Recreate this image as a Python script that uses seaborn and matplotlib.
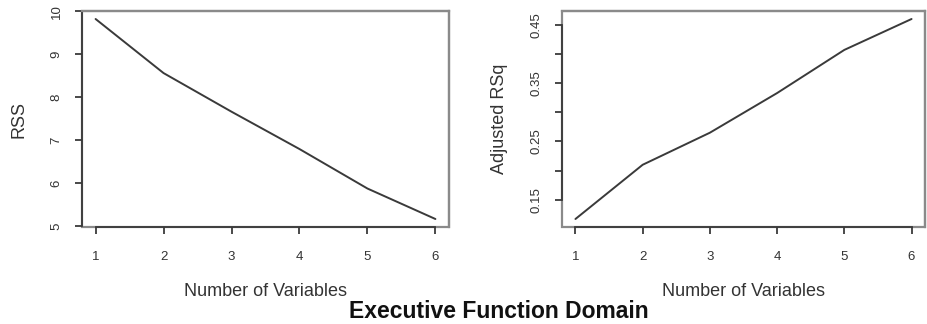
import matplotlib
matplotlib.use("Agg")
import matplotlib.pyplot as plt
import matplotlib.patches as mpatches
from matplotlib.ticker import FixedLocator, FixedFormatter
import seaborn as sns
import pandas as pd

n_vars = [1, 2, 3, 4, 5, 6]
rss = [9.82, 8.56, 7.66, 6.79, 5.87, 5.16]
adj_rsq = [0.117, 0.210, 0.265, 0.333, 0.407, 0.460]

rss_ticks = [5, 6, 7, 8, 9, 10]
rss_labels = ["5", "6", "7", "8", "9", "10"]
adj_ticks = [0.15, 0.20, 0.25, 0.30, 0.35, 0.40, 0.45]
adj_labels = ["0.15", "", "0.25", "", "0.35", "", "0.45"]

title = "Executive Function Domain"
xlabel = "Number of Variables"

sns.set_theme(style="white")
plt.rcParams["font.family"] = ["Liberation Sans", "DejaVu Sans"]

fig = plt.figure(figsize=(9.28, 3.24), dpi=100)
ax1 = fig.add_axes([82/928, 97/324, 367/928, 216/324])
ax2 = fig.add_axes([562/928, 97/324, 363/928, 216/324])

df = pd.DataFrame({"n": n_vars, "rss": rss, "adj": adj_rsq})

text_col = "#333333"
box_col = "#8a8a8a"
axis_col = "#3a3a3a"

def style(ax, y, yticks, ylabels, ylab, ylabpad):
    sns.lineplot(data=df, x="n", y=y, ax=ax, color="#3a3a3a", linewidth=1.4)
    vals = df[y]
    lo, hi = vals.min(), vals.max()
    pad = (hi - lo) * 0.04
    ax.set_ylim(lo - pad, hi + pad)
    ax.set_xlim(0.8, 6.2)
    ax.xaxis.set_major_locator(FixedLocator(n_vars))
    ax.set_xticklabels([str(v) for v in n_vars])
    ax.yaxis.set_major_locator(FixedLocator(yticks))
    ax.yaxis.set_major_formatter(FixedFormatter(ylabels))
    for lab in ax.get_yticklabels():
        lab.set_rotation(90)
        lab.set_va("center")
    ax.tick_params(axis="both", which="major", direction="out", length=5,
                   width=1.3, color=axis_col, labelsize=9.5, labelcolor=text_col,
                   pad=9, bottom=True, left=True)
    ax.tick_params(axis="x", pad=12)
    for s in ["top", "right"]:
        ax.spines[s].set_color(box_col)
        ax.spines[s].set_linewidth(1.6)
    for s in ["left", "bottom"]:
        ax.spines[s].set_color(axis_col)
        ax.spines[s].set_linewidth(1.3)
    ax.spines["bottom"].set_bounds(1, 6)
    ax.spines["left"].set_bounds(min(yticks), max(yticks))
    rect = mpatches.Rectangle((0, 0), 1, 1, transform=ax.transAxes, fill=False,
                              edgecolor=box_col, linewidth=1.6, zorder=0.5,
                              clip_on=False)
    ax.add_patch(rect)
    ax.set_xlabel(xlabel, fontsize=13, color=text_col, labelpad=15)
    ax.set_ylabel(ylab, fontsize=13, color=text_col, labelpad=ylabpad)
    ax.set_facecolor("white")

style(ax1, "rss", rss_ticks, rss_labels, "RSS", 16.5)
style(ax2, "adj", adj_ticks, adj_labels, "Adjusted RSq", 16)

fig.text(499/928, 12/324, title, ha="center", va="center",
         fontsize=16.5, fontweight="bold", color="#111111")

fig.savefig("out.png", dpi=100, facecolor="white")
